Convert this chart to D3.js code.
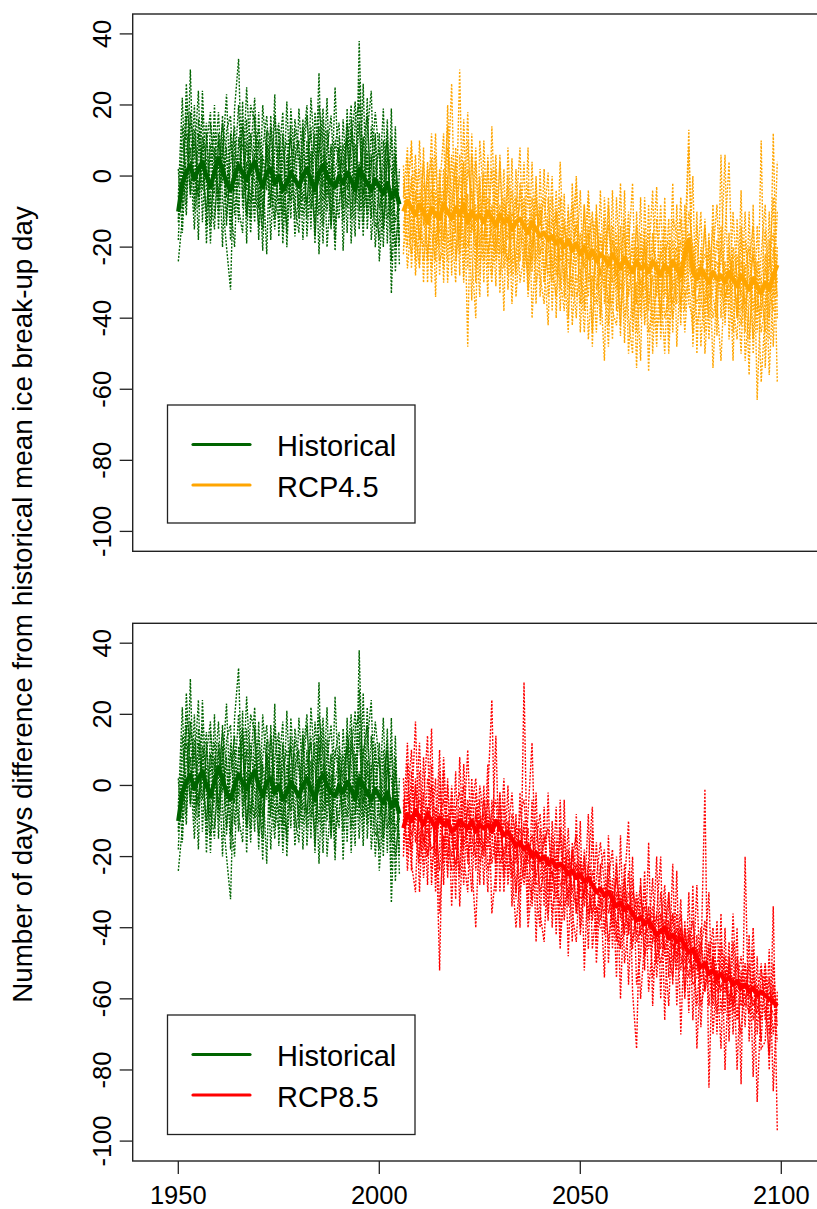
<!DOCTYPE html>
<html>
<head>
<meta charset="utf-8">
<script src="https://cdn.jsdelivr.net/npm/d3@7/dist/d3.min.js"></script>
<style>
  html, body { margin: 0; padding: 0; background: #fff; }
  svg { display: block; }
  text { font-family: "Liberation Sans", Arial, sans-serif; fill: #000; }
</style>
</head>
<body>
<svg id="chart" width="817" height="1209"></svg>
<script>
// ---------------- DATA ----------------
const histStart = 1950;   // historical runs 1950-2005
const rcpStart = 2006;    // scenarios run 2006-2099
const xTicks = [1950, 2000, 2050, 2100];
const yTicks = [-100, -80, -60, -40, -20, 0, 20, 40];

// Historical ensemble mean
const histMean = [-10,-2,1,3,-1,2,4,0,-3,1, 5,2,-2,-4,0,3,1,-1,2,4, 0,-3,1,2,-2,0,-4,-2,1,-1,
  -3,0,2,-1,-4,1,3,0,-2,-3, 0,-2,1,-1,-4,2,0,-2,-4,-1, -3,-5,-2,-6,-4,-8];
// Historical ensemble members
const hist1 = [-18,8,12,-5,20,-9,6,15,-14,3, 18,-7,-20,-32,10,-3,14,-11,7,22, -6,-15,9,4,-12,13,-19,1,11,-8,
  -16,5,17,-4,-13,20,8,-10,3,-21, 6,-9,14,-2,-17,38,-5,4,-12,11, -24,-7,16,-33,-1,-15];
const hist2 = [-6,22,-8,30,-10,12,-4,9,18,-12, 2,15,6,-14,19,33,-9,4,-16,8, 13,2,-22,17,-3,9,-11,21,-7,5,
  10,-18,6,12,-6,29,-14,7,17,-5, -12,16,-4,9,21,-10,26,-15,3,18, 6,-20,9,-11,14,-25];
const hist3 = [-24,-12,26,4,-15,7,17,-19,5,12, -10,6,23,-8,-20,11,-2,25,3,-13, 18,-9,12,-18,8,15,-6,-14,19,2,
  -9,14,-12,22,5,-11,16,-20,-2,9, 15,-21,7,20,-8,4,-17,12,24,-14, -13,10,-19,19,-27,2];
const hist4 = [2,-16,7,15,9,-18,24,-3,-9,20, -15,11,-6,9,4,-13,21,-19,12,-2, -14,20,4,-9,23,-17,5,10,-12,16,
  7,-7,10,-15,18,3,-19,13,-11,25, -3,9,-16,13,-1,15,-9,22,-18,-4, 12,-15,5,2,-13,-6];
const hist5 = [-13,3,-11,18,5,24,-13,12,-6,-15, 10,-20,13,17,-11,4,9,-4,20,15, -18,8,17,-2,-15,5,18,-20,4,-12,
  19,2,-8,7,-19,11,-3,22,-14,1, 8,-13,19,-19,9,-6,11,-9,6,-20, -3,19,-12,-7,8,-18];
const hist6 = [-8,-9,17,-6,13,-4,9,-14,15,4, -5,17,-12,3,14,-9,-16,16,-8,6, 5,-21,13,10,-7,-12,11,-5,14,-17,
  -4,16,-17,2,12,-22,6,-6,9,-13, -7,3,11,-12,16,20,-13,7,-11,12, -9,-4,13,-16,4,-10];
const hist7 = [-12,14,-3,8,-7,16,2,-10,9,-5, 12,-2,8,-18,2,20,-6,10,-12,17, -9,6,-4,14,0,-8,12,-16,6,9,
  -12,9,20,-9,-2,14,-7,4,-15,10, 3,-6,15,6,-12,27,1,-11,14,-8, -18,3,10,-24,6,-20];
const hist8 = [-4,-2,20,12,1,-6,11,5,-19,8, -7,9,-14,12,-5,8,16,-12,4,-9, 10,-12,8,-7,17,2,-15,6,-3,13,
  4,-11,0,14,-17,6,19,-5,8,-18, 11,2,-9,16,4,-15,9,17,-6,2, 8,-12,-4,11,-20,-9];

// RCP4.5 ensemble mean
const rcp45Mean = [-10,-7,-9,-11,-8,-10,-13,-9,-11,-12, -8,-10,-12,-9,-11,-8,-13,-10,-12,-11,
  -13,-10,-12,-14,-11,-13,-12,-15,-13,-12, -14,-16,-13,-15,-17,-16,-18,-17,-19,-18,
  -20,-18,-21,-19,-22,-20,-23,-21,-24,-22, -23,-25,-22,-24,-26,-23,-25,-27,-24,-26,
  -25,-27,-24,-26,-28,-25,-27,-24,-26,-28, -22,-18,-27,-29,-26,-28,-30,-27,-29,-28,
  -30,-27,-29,-31,-28,-30,-32,-29,-31,-33, -30,-32,-28,-25];
// RCP4.5 ensemble members
const rcp45_1 = [-22,5,-18,2,-25,8,-30,3,-19,-4, 12,-24,6,-16,30,-28,-5,-35,4,-20, 1,-26,-8,-31,6,-22,-3,-36,-10,8,
  -30,-2,-27,0,-34,-12,1,-38,-9,-32, -5,-40,-14,-2,-44,-18,-6,-48,-12,-30, -52,-8,-36,-20,-45,-4,-40,-50,-10,-34,
  -15,-55,-22,-3,-46,-30,-12,-44,-8,-38, -20,13,-48,-26,-10,-50,-32,-14,-45,6, -42,-20,-52,-12,-38,-25,-56,-8,-63,-30,
  -15,-46,12,-40];
const rcp45_2 = [3,-20,-2,-24,10,-14,2,-26,6,-28, -6,14,-28,8,-18,4,-48,12,-26,-2, -30,6,-24,2,-33,-6,-28,5,-34,-18,
  4,-32,-10,-36,2,-30,-20,0,-40,-6, -34,-8,-42,-24,-4,-38,-16,-44,-8,-40, -12,-42,-4,-38,-14,-47,-20,-2,-44,-16,
  -40,-8,-50,-24,-42,-6,-46,-18,-36,-12, -30,-10,-20,-42,-36,-12,-46,-22,-8,-40, -16,4,-36,-46,-14,-44,-10,-50,-26,-58,
  -38,-10,-48,-20];
const rcp45_3 = [-14,-4,8,-28,-12,4,-22,-10,12,-24, -20,20,-14,-30,6,-12,18,-22,-40,10, -8,-34,14,-20,-10,-38,8,-18,-6,-30,
  -22,8,-40,-18,-8,-24,-42,-6,-28,4, -26,-44,-2,-34,-30,-8,-46,-28,-36,-4, -36,-22,-46,-6,-32,-26,-10,-44,-30,-52,
  -6,-36,-28,-48,-18,-40,-34,-2,-48,-24, -44,-26,0,-50,-20,-36,-16,-54,-30,-24, 6,-46,-24,-40,-4,-52,-36,-20,-44,10,
  -54,-26,-6,-58];
const rcp45_4 = [-6,8,-26,-6,2,-30,-2,5,-34,0, -18,-2,26,-24,-14,-6,-26,6,-16,-34, 10,-18,-30,-4,-22,2,-32,-12,-26,-2,
  -12,-26,4,-30,-24,2,-34,-20,-10,-38, -14,-22,-34,0,-28,-36,-4,-24,-44,-16, -28,-48,-14,-32,-2,-40,-32,-16,-54,-20,
  -32,-24,-4,-44,-36,-14,-50,-26,-20,-42, -8,-36,-40,-10,-48,-26,-40,-8,-36,-52, -26,-38,-10,-30,-50,-18,-28,-46,-14,-38,
  -22,-56,-30,4];
const rcp45_5 = [-20,-14,0,-16,-26,-2,-8,-30,-4,-16, 2,-30,-8,4,-28,16,-20,-14,8,-24, -20,4,-28,-16,4,-26,-10,-28,2,-24,
  -6,-34,-18,-2,-28,-36,-6,-26,-34,-14, -30,-10,-26,-40,-16,-24,-34,-12,-20,-42, -6,-30,-38,-42,-26,-12,-50,-30,-14,-38,
  -20,-44,-38,-12,-30,-50,-20,-36,-28,-6, -34,-30,-44,-14,-34,-44,-22,-34,-40,-14, -36,-16,-44,-22,-34,-10,-46,-28,-38,-22,
  -8,-40,-20,-34];
const rcp45_6 = [-2,-26,-12,6,-16,-20,4,-16,-24,2, -30,0,-22,-10,0,-20,2,-4,-30,0, -24,-14,2,-24,-16,-8,-18,-4,-28,-14,
  -26,-12,-20,-10,-14,-6,-20,-30,-16,-24, -12,-32,-20,-14,-36,-8,-30,-20,-10,-28, -18,-14,-26,-24,-42,-18,-28,-20,-36,-6,
  -42,-30,-16,-34,-22,-20,-38,-12,-16,-30, -26,8,-30,-36,-30,-14,-34,-32,-18,-30, -40,-22,-28,-36,-18,-40,-24,-14,-32,-44,
  -36,-24,-16,-30];
const rcp45_7 = [-16,-8,10,-20,-4,-24,-12,12,-22,-6, -26,8,-4,-22,-6,-30,10,-16,-8,-28, -4,-22,-14,6,-28,-16,0,-24,-22,-4,
  -20,-28,-6,-24,-10,-30,-12,-26,-4,-28, -38,-16,-8,-30,-26,-44,-20,-10,-32,-26, -32,-6,-30,-16,-38,-30,-14,-40,-20,-30,
  -28,-16,-42,-30,-8,-34,-26,-40,-30,-18, -38,-16,-20,-32,-24,-40,-18,-28,-24,-34, -24,-34,-20,-28,-42,-26,-20,-38,-24,-30,
  -44,-18,-34,-10];
const rcp45_8 = [0,-12,-22,-4,-18,-6,-24,-4,-8,-20, -4,-18,-20,0,-22,2,-16,-4,-20,-8, -18,-6,-16,-22,-8,-20,-24,-10,-14,-8,
  -8,-20,-24,-6,-22,-18,-28,-12,-24,-20, -22,-24,-30,-12,-20,-26,-14,-34,-22,-18, -26,-36,-18,-28,-20,-16,-34,-24,-22,-40,
  -18,-38,-20,-24,-40,-22,-18,-32,-22,-36, -18,-24,-34,-26,-28,-22,-26,-40,-32,-20, -34,-30,-22,-40,-24,-36,-30,-22,-34,-40,
  -26,-32,-38,-22];

// RCP8.5 ensemble mean
const rcp85Mean = [-12,-8,-10,-7,-9,-11,-8,-10,-12,-9, -11,-10,-13,-12,-10,-11,-12,-10,-13,-11,
  -12,-11,-13,-10,-12,-14,-13,-15,-17,-16, -18,-17,-20,-19,-21,-20,-22,-21,-23,-22,
  -23,-25,-24,-26,-25,-27,-26,-28,-30,-29, -31,-30,-32,-34,-33,-35,-34,-36,-38,-37,
  -39,-38,-40,-42,-41,-40,-43,-42,-44,-43, -45,-47,-46,-49,-51,-50,-53,-52,-54,-53,
  -55,-54,-56,-55,-57,-56,-58,-57,-59,-58, -59,-60,-61,-62];
// RCP8.5 ensemble members
const rcp85_1 = [-20,6,-24,2,-30,-4,14,-28,-6,-52, 4,-26,-2,-32,8,-20,-30,2,-24,-4, -28,-2,24,-30,-6,-26,0,-34,-8,-40,
  29,-36,-4,-44,-12,-34,-2,-40,-18,-46, -4,-48,-16,-36,-10,-52,-22,-6,-50,-30, -54,-14,-46,-20,-60,-28,-10,-58,-74,-26,
  -52,-16,-62,-36,-20,-66,-30,-56,-24,-70, -38,-64,-28,-74,-50,-1,-85,-44,-70,-36, -80,-48,-64,-40,-84,-20,-72,-46,-89,-60,
  -50,-80,-34,-97];
const rcp85_2 = [2,-24,-8,18,-20,-2,-28,6,-30,4, -22,2,-34,-8,-24,6,-16,-30,-6,-28, 0,-24,-18,14,-30,-4,-28,-14,-32,-2,
  -26,-8,12,-30,-40,-6,-36,-14,-42,-4, -38,-20,-44,-8,-40,-18,-46,-12,-44,-24, -18,-50,-26,-54,-14,-50,-40,-20,-56,-48,
  -24,-58,-44,-20,-60,-32,-54,-22,-62,-40, -58,-30,-66,-42,-68,-46,-30,-70,-52,-74, -40,-72,-44,-80,-52,-68,-42,-82,-48,-74,
  -72,-46,-86,-58];
const rcp85_3 = [-10,12,-22,-30,4,-26,-12,16,-26,-18, 8,-16,-24,4,-34,-12,10,-22,-40,-8, -20,6,-36,-24,-2,-30,-10,-24,-40,-26,
  -10,-40,-28,-2,-36,-44,-20,-30,-6,-44, -30,-12,-36,-44,-22,-32,-8,-46,-34,-40, -40,-26,-18,-42,-46,-22,-56,-30,-34,-60,
  -44,-34,-54,-48,-30,-46,-62,-36,-50,-32, -60,-40,-54,-28,-62,-56,-44,-60,-38,-64, -52,-66,-36,-62,-70,-50,-60,-40,-70,-52,
  -62,-76,-50,-68];
const rcp85_4 = [-16,-4,10,-14,-22,8,-20,-12,2,-36, -14,-24,0,-18,-6,-28,-4,-14,-20,0, -10,-30,-4,-20,-16,2,-26,-8,-14,-30,
  -22,-12,-34,-16,-8,-26,-38,-10,-28,-34, -14,-32,-20,-14,-42,-28,-30,-36,-16,-38, -30,-44,-34,-26,-36,-40,-24,-44,-36,-28,
  -48,-42,-26,-54,-40,-28,-48,-54,-36,-52, -40,-50,-46,-62,-46,-38,-62,-48,-64,-46, -64,-44,-70,-48,-58,-62,-50,-66,-56,-72,
  -50,-66,-58,-72];
const rcp85_5 = [-6,-20,0,-10,12,-18,-6,-24,-14,10, -28,0,-16,-22,-12,0,-22,-6,2,-18, -4,-16,-8,-4,-22,-18,-14,-2,-22,-8,
  -4,-22,-18,-28,-26,-14,-28,-24,-32,-12, -28,-22,-30,-34,-20,-34,-24,-38,-26,-16, -28,-32,-40,-22,-38,-26,-38,-46,-30,-42,
  -30,-40,-36,-44,-50,-42,-30,-46,-42,-48, -52,-44,-38,-52,-44,-58,-50,-40,-56,-50, -58,-50,-62,-56,-48,-60,-64,-54,-60,-50,
  -66,-54,-70,-60];
const rcp85_6 = [-14,-10,-18,0,-14,-22,2,-4,-20,-8, -4,-14,-20,-6,-2,-16,-12,-18,-8,-16, -18,-8,-22,-14,-10,-20,-16,-26,-10,-18,
  -28,-16,-24,-10,-22,-16,-12,-26,-20,-24, -20,-34,-18,-24,-30,-22,-36,-24,-30,-32, -36,-22,-34,-44,-28,-42,-30,-34,-42,-32,
  -38,-36,-44,-36,-46,-38,-42,-36,-48,-40, -46,-54,-42,-48,-56,-48,-52,-56,-50,-44, -52,-60,-54,-50,-62,-54,-58,-60,-64,-56,
  -56,-62,-64,-66];
const rcp85_7 = [-4,-18,4,-16,-8,-14,-20,0,-10,-24, -8,-20,-6,-16,-26,-4,-20,-12,-2,-22, -16,-4,-14,-22,-2,-24,-20,-10,-30,-16,
  -12,-26,-32,-18,-30,-24,-20,-36,-26,-14, -34,-30,-18,-36,-28,-20,-38,-30,-40,-22, -42,-26,-38,-30,-46,-30,-42,-26,-44,-40,
  -34,-46,-38,-50,-36,-48,-40,-44,-52,-36, -50,-42,-56,-54,-40,-58,-46,-62,-52,-58, -48,-62,-54,-66,-56,-50,-64,-52,-62,-66,
  -54,-70,-56,-64];
const rcp85_8 = [-18,-2,-14,-8,-4,-16,-12,-18,-16,-2, -18,-8,-12,-24,-10,-18,-6,-20,-16,-10, -8,-18,-10,-16,-20,-10,-14,-22,-20,-12,
  -22,-20,-14,-26,-18,-22,-30,-18,-16,-28, -26,-18,-30,-22,-32,-30,-22,-28,-36,-34, -28,-36,-30,-40,-32,-34,-40,-38,-32,-36,
  -42,-40,-34,-44,-40,-46,-38,-50,-40,-46, -42,-48,-52,-46,-54,-50,-56,-48,-58,-56, -58,-52,-60,-58,-54,-60,-56,-62,-58,-62,
  -64,-58,-60,-62];

const histMembers = [hist1, hist2, hist3, hist4, hist5, hist6, hist7, hist8];
const rcp45Members = [rcp45_1, rcp45_2, rcp45_3, rcp45_4, rcp45_5, rcp45_6, rcp45_7, rcp45_8];
const rcp85Members = [rcp85_1, rcp85_2, rcp85_3, rcp85_4, rcp85_5, rcp85_6, rcp85_7, rcp85_8];

const legendLabels = [["Historical", "RCP4.5"], ["Historical", "RCP8.5"]];
const yTitle = "Number of days difference from historical mean ice break-up day";

// ---------------- STYLE / LAYOUT ----------------
const colHist = "#006400", col45 = "#FFA500", col85 = "#FF0000";
const boxLeft = 132.7, boxRight = 845;
const panels = [
  { top: 14, bottom: 551.3, y0: 531.4, y1: 33.9, rcp: rcp45Members, rcpMean: rcp45Mean, col: col45, legTop: 405, legBot: 523, labels: legendLabels[0], xaxis: false },
  { top: 623.3, bottom: 1161, y0: 1141.1, y1: 643.2, rcp: rcp85Members, rcpMean: rcp85Mean, col: col85, legTop: 1015, legBot: 1134.5, labels: legendLabels[1], xaxis: true }
];

const svg = d3.select("#chart");
const x = d3.scaleLinear().domain([1950, 2100]).range([178.3, 781.3]);

const toPts = (arr, start) => arr.map((v, i) => [start + i, v]);

panels.forEach((p, pi) => {
  const y = d3.scaleLinear().domain([-100, 40]).range([p.y0, p.y1]);
  const line = d3.line().x(d => x(d[0])).y(d => y(d[1]));
  const clipId = "clip" + pi;
  svg.append("clipPath").attr("id", clipId).append("rect")
    .attr("x", boxLeft).attr("y", p.top).attr("width", boxRight - boxLeft).attr("height", p.bottom - p.top);
  const g = svg.append("g").attr("clip-path", `url(#${clipId})`);

  const dw = 1.4, dash = "2,1.5";
  histMembers.forEach(m => {
    g.append("path").attr("d", line(toPts(m, histStart))).attr("fill", "none")
      .attr("stroke", colHist).attr("stroke-width", dw).attr("stroke-dasharray", dash);
  });
  p.rcp.forEach(m => {
    g.append("path").attr("d", line(toPts(m, rcpStart))).attr("fill", "none")
      .attr("stroke", p.col).attr("stroke-width", dw).attr("stroke-dasharray", dash);
  });
  g.append("path").attr("d", line(toPts(histMean, histStart))).attr("fill", "none")
    .attr("stroke", colHist).attr("stroke-width", 4.4).attr("stroke-linejoin", "round");
  g.append("path").attr("d", line(toPts(p.rcpMean, rcpStart))).attr("fill", "none")
    .attr("stroke", p.col).attr("stroke-width", 4.4).attr("stroke-linejoin", "round");

  // box
  svg.append("rect").attr("x", boxLeft).attr("y", p.top).attr("width", boxRight - boxLeft).attr("height", p.bottom - p.top)
    .attr("fill", "none").attr("stroke", "#222").attr("stroke-width", 1.4);

  // y axis
  const ya = svg.append("g");
  yTicks.forEach(t => {
    ya.append("line").attr("x1", boxLeft).attr("x2", boxLeft - 13).attr("y1", y(t)).attr("y2", y(t))
      .attr("stroke", "#222").attr("stroke-width", 1.3);
    ya.append("text").attr("transform", `translate(111,${y(t)}) rotate(-90)`)
      .attr("text-anchor", "middle").attr("font-size", 25.5).text(t);
  });

  // x axis
  if (p.xaxis) {
    xTicks.forEach(t => {
      svg.append("line").attr("x1", x(t)).attr("x2", x(t)).attr("y1", p.bottom).attr("y2", p.bottom + 13)
        .attr("stroke", "#222").attr("stroke-width", 1.3);
      svg.append("text").attr("x", x(t)).attr("y", 1204).attr("text-anchor", "middle")
        .attr("font-size", 25.5).text(t);
    });
  }

  // legend
  svg.append("rect").attr("x", 167.5).attr("y", p.legTop).attr("width", 247.5).attr("height", p.legBot - p.legTop)
    .attr("fill", "#fff").attr("stroke", "#222").attr("stroke-width", 1.3);
  const rows = [colHist, p.col];
  rows.forEach((c, i) => {
    const ly = p.legTop + 39.5 + i * 40.5;
    svg.append("line").attr("x1", 193).attr("x2", 250).attr("y1", ly).attr("y2", ly)
      .attr("stroke", c).attr("stroke-width", 3.2).attr("stroke-linecap", "round");
    svg.append("text").attr("x", 277).attr("y", ly + 11.5).attr("font-size", 29).text(p.labels[i]);
  });
});

// y-axis title
svg.append("text").attr("transform", "translate(31.5,604.5) rotate(-90)")
  .attr("text-anchor", "middle").attr("font-size", 27.8).text(yTitle);
</script>
</body>
</html>
